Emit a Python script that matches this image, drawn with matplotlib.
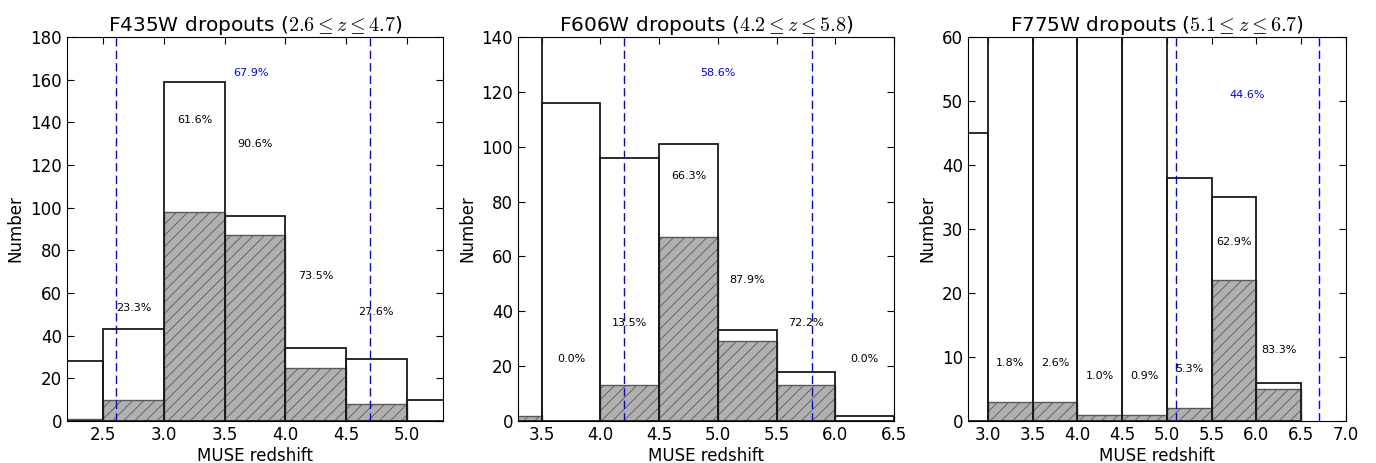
import numpy as np
import matplotlib
matplotlib.use('Agg')
import matplotlib.pyplot as plt

plt.rcParams['font.family'] = 'DejaVu Sans'
plt.rcParams['mathtext.fontset'] = 'cm'
plt.rcParams['xtick.direction'] = 'in'
plt.rcParams['ytick.direction'] = 'in'
plt.rcParams['xtick.top'] = True
plt.rcParams['ytick.right'] = True
plt.rcParams['xtick.major.size'] = 5
plt.rcParams['ytick.major.size'] = 5
plt.rcParams['hatch.linewidth'] = 0.6
plt.rcParams['hatch.color'] = '0.25'

# ---- data: one entry per dropout sample ----
titles = [r'F435W dropouts ($2.6 \leq z \leq 4.7$)',
          r'F606W dropouts ($4.2 \leq z \leq 5.8$)',
          r'F775W dropouts ($5.1 \leq z \leq 6.7$)']

# bin left edges (width 0.5)
edges_435 = [2.0, 2.5, 3.0, 3.5, 4.0, 4.5, 5.0]
total_435 = [28, 43, 159, 96, 34, 29, 10]
conf_435 = [1, 10, 98, 87, 25, 8, 0]

edges_606 = [3.0, 3.5, 4.0, 4.5, 5.0, 5.5, 6.0]
total_606 = [150, 116, 96, 101, 33, 18, 2]
conf_606 = [2, 0, 13, 67, 29, 13, 0]

edges_775 = [2.5, 3.0, 3.5, 4.0, 4.5, 5.0, 5.5, 6.0]
total_775 = [45, 167, 115, 100, 111, 38, 35, 6]
conf_775 = [0, 3, 3, 1, 1, 2, 22, 5]

zrange = [(2.6, 4.7), (4.2, 5.8), (5.1, 6.7)]
overall = ['67.9%', '58.6%', '44.6%']

# which bins carry a percentage label
labelled_435 = [1, 2, 3, 4, 5]
labelled_606 = [1, 2, 3, 4, 5, 6]
labelled_775 = [1, 2, 3, 4, 5, 6, 7]

# ---- annotation positions ----
label_y_435 = [53, 141, 130, 68, 51]
label_y_606 = [22.5, 35.6, 89.4, 51.4, 35.6, 22.5]
label_y_775 = [9.1, 9.1, 7.0, 7.0, 8.1, 28, 11.1]
overall_xy = [(3.72, 163), (5.0, 127), (5.9, 51)]
xlims = [(2.2, 5.3), (3.3, 6.5), (2.78, 7.0)]
ylims = [180, 140, 60]
xticks = [np.arange(2.5, 5.01, 0.5), np.arange(3.5, 6.51, 0.5), np.arange(3.0, 7.01, 0.5)]
axes_pos = [[0.0487, 0.0907, 0.2733, 0.8294],
            [0.3765, 0.0907, 0.2733, 0.8294],
            [0.7035, 0.0907, 0.2747, 0.8294]]

panels = [(edges_435, total_435, conf_435, labelled_435, label_y_435),
          (edges_606, total_606, conf_606, labelled_606, label_y_606),
          (edges_775, total_775, conf_775, labelled_775, label_y_775)]

fig = plt.figure(figsize=(13.76, 4.63), dpi=100)

for i, (edges, total, conf, labelled, label_y) in enumerate(panels):
    ax = fig.add_axes(axes_pos[i])
    # confirmed (hatched) bars first, open totals on top
    ax.bar(edges, conf, width=0.5, align='edge', color='#b0b0b0',
           edgecolor='0.35', linewidth=1.0, hatch='///', zorder=2)
    ax.bar(edges, total, width=0.5, align='edge', fill=False,
           edgecolor='0.1', linewidth=1.3, zorder=3)
    for z in zrange[i]:
        ax.axvline(z, color='blue', linestyle=(0, (6, 3)), linewidth=1.0, zorder=4)
    for k, yy in zip(labelled, label_y):
        pct = 100.0 * conf[k] / total[k]
        ax.text(edges[k] + 0.25, yy, f'{pct:.1f}%', ha='center', va='center',
                fontsize=8, zorder=5)
    ax.text(overall_xy[i][0], overall_xy[i][1], overall[i], color='blue',
            ha='center', va='center', fontsize=8, zorder=5)
    ax.set_xlim(*xlims[i])
    ax.set_ylim(0, ylims[i])
    ax.set_xticks(xticks[i])
    ax.tick_params(labelsize=12)
    ax.set_xlabel('MUSE redshift', fontsize=12, labelpad=2)
    ax.set_ylabel('Number', fontsize=12)
    ax.set_title(titles[i], fontsize=14.5, pad=4)

plt.savefig('out.png', dpi=100)
